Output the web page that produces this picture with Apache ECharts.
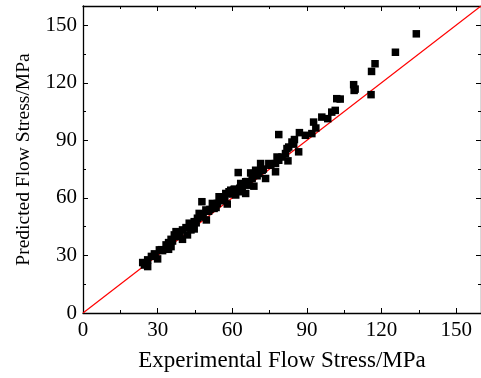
<!DOCTYPE html>
<html>
<head>
    <meta charset="utf-8"/>
    <script src="https://cdn.jsdelivr.net/npm/echarts@6/dist/echarts.min.js"></script>
</head>
<body style="margin:0">
<div id="main" style="width: 481px;height:378px;"></div>
<script type="text/javascript">
    // experimental vs predicted flow stress (MPa)
    var experimental = [134, 125.6, 117.4, 116, 115.8, 108.8, 109.4, 109, 102, 103.4,
        101.4, 100, 98.4, 96, 92.7, 93.6, 89.4, 92, 87, 78.7,
        85, 84.7, 86.7, 82, 81.4, 82.4, 78, 77.4, 77.4, 74.7,
        71.4, 72, 69.4, 67.4, 62.4, 73.4, 68, 68.7, 65.4, 63.4,
        65.4, 62.7, 60.7, 58.7, 57.4, 54.7, 58, 54, 52, 52.7,
        47.8, 49.4, 48.3, 49.6, 46, 44.7, 42.7, 44.7, 41.4, 40,
        42, 40, 38, 36.7, 35.4, 34.4, 35.4, 33.4, 34.4, 32,
        30.7, 28.7, 30, 24, 26, 26, 24.7, 46.7, 56, 59.4,
        61.4, 64, 66.7, 70.7, 78.7, 80, 82.7, 84, 37.4, 38.7,
        43.4, 45.5, 50.5, 53.5, 55.5, 57, 60, 61, 63, 66,
        70, 72.5, 75.5, 39, 36, 31.5, 29, 27.5, 47, 51];
    var predicted = [145.5, 135.9, 129.9, 125.9, 113.8, 119, 116.7, 116, 111.7, 111.5,
        105.6, 104.7, 101.3, 102.1, 99.5, 96.4, 92.6, 93.5, 94, 93,
        90.4, 88, 84, 85.7, 83.1, 79.3, 81.3, 77.9, 73.6, 77.9,
        77.9, 74.4, 74.4, 73, 73.2, 70.1, 70.1, 66.1, 68.4, 67.5,
        62.3, 63.2, 64.4, 63.2, 62.3, 60.6, 56.8, 57.1, 57.1, 54.5,
        58, 53.7, 51.1, 48.5, 49.4, 47.6, 46.8, 43.8, 44.5, 43.3,
        40.7, 38.4, 41.6, 40.7, 38.4, 36.7, 34.6, 35.5, 33.2, 32.5,
        32.9, 30.8, 28.2, 26.3, 27.7, 24.2, 25, 51.9, 59.7, 64,
        61.5, 65.8, 66.6, 72.7, 79.6, 81.3, 86.5, 89.1, 42.4, 39.8,
        43.3, 47, 53, 55, 58.5, 59, 62, 64.5, 65, 68.5,
        71.5, 75, 77, 40.5, 37.5, 33, 30.5, 29.5, 50, 54];
    var lineXY = [0, 160];
    var ticks = { min: 0, max: 160, interval: 30 };

    var points = experimental.map(function (x, i) { return [x, predicted[i]]; });
    var font = 'Liberation Serif';

    function axis(pos, showLabel, name, extra) {
        var a = {
            type: 'value',
            position: pos,
            min: ticks.min,
            max: ticks.max,
            interval: ticks.interval,
            axisLine: { show: true, onZero: false, lineStyle: { color: '#000', width: 1.3 } },
            axisTick: { show: true, inside: true, length: 5, lineStyle: { color: '#000' } },
            minorTick: { show: true, splitNumber: 2, length: 3, lineStyle: { color: '#000' } },
            splitLine: { show: false },
            axisLabel: {
                show: showLabel, color: '#000', fontFamily: font, fontSize: 21,
                showMaxLabel: false
            }
        };
        if (name) {
            a.name = name;
            a.nameLocation = 'middle';
        }
        return Object.assign(a, extra || {});
    }

    var myChart = echarts.init(document.getElementById('main'));
    var option = {
        backgroundColor: '#fff',
        animation: false,
        grid: { left: 83, top: 6, width: 400, height: 307 },
        xAxis: [
            axis('bottom', true, 'Experimental Flow Stress/MPa', {
                nameGap: 36,
                nameTextStyle: { color: '#000', fontFamily: font, fontSize: 23 },
                axisLabel: { show: true, color: '#000', fontFamily: font, fontSize: 21, margin: 7, showMaxLabel: false }
            }),
            axis('top', false, null)
        ],
        yAxis: [
            axis('left', true, 'Predicted Flow Stress/MPa', {
                nameGap: 49,
                nameTextStyle: { color: '#000', fontFamily: font, fontSize: 19.5 },
                axisLabel: { show: true, color: '#000', fontFamily: font, fontSize: 21, margin: 6, showMaxLabel: false }
            }),
            axis('right', false, null)
        ],
        series: [
            {
                type: 'line',
                data: [[lineXY[0], lineXY[0]], [lineXY[1], lineXY[1]]],
                symbol: 'none',
                lineStyle: { color: '#ff0000', width: 1.2 },
                z: 1
            },
            {
                type: 'scatter',
                data: points,
                symbol: 'rect',
                symbolSize: 7.5,
                itemStyle: { color: '#000', opacity: 1 },
                z: 2
            }
        ]
    };
    myChart.setOption(option);
</script>
</body>
</html>
